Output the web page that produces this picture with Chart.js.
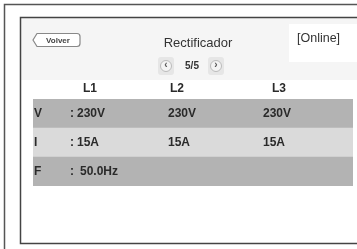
<!DOCTYPE html>
<html>
<head>
<meta charset="utf-8">
<script src="https://cdn.jsdelivr.net/npm/chart.js@4.4.1/dist/chart.umd.min.js"></script>
<style>
  html, body { margin: 0; padding: 0; background: #fff; }
  canvas { display: block; }
</style>
</head>
<body>
<canvas id="panel" width="357" height="249"></canvas>
<script>
// datos de la pantalla
const titulo = 'Rectificador';
const estado = '[Online]';
const pagina = '5/5';
const fases = ['L1', 'L2', 'L3'];
const filas = ['V', 'I', 'F'];
const tension = [230, 230, 230];
const corriente = [15, 15, 15];
const frecuencia = [50.0];

const textos = [
    tension.map(v => v + 'V'),
    corriente.map(v => v + 'A'),
    frecuencia.map(v => v.toFixed(1) + 'Hz')
];

const FONT = '"Liberation Sans", Arial, sans-serif';
const colX = [77, 168, 263];      // inicio de cada columna de valores
const headX = [90, 177, 279];     // centro de L1..L3

function roundRect(ctx, x, y, w, h, r) {
    ctx.beginPath();
    ctx.moveTo(x + r, y);
    ctx.lineTo(x + w - r, y);
    ctx.quadraticCurveTo(x + w, y, x + w, y + r);
    ctx.lineTo(x + w, y + h - r);
    ctx.quadraticCurveTo(x + w, y + h, x + w - r, y + h);
    ctx.lineTo(x + r, y + h);
    ctx.quadraticCurveTo(x, y + h, x, y + h - r);
    ctx.lineTo(x, y + r);
    ctx.quadraticCurveTo(x, y, x + r, y);
    ctx.closePath();
}

const marco = {
    id: 'marco',
    beforeDraw(chart) {
        const ctx = chart.ctx;
        ctx.save();
        ctx.fillStyle = '#ffffff';
        ctx.fillRect(0, 0, chart.width, chart.height);

        // cabecera gris clara
        ctx.fillStyle = '#f5f5f5';
        ctx.fillRect(21, 18, 336, 62);
        ctx.fillStyle = '#ffffff';
        ctx.fillRect(289, 24, 68, 38);

        // marco exterior
        ctx.strokeStyle = '#555';
        ctx.lineWidth = 1.5;
        ctx.beginPath();
        ctx.moveTo(4.5, 249);
        ctx.lineTo(4.5, 4.5);
        ctx.lineTo(357, 4.5);
        ctx.stroke();

        // marco interior
        ctx.strokeStyle = '#444';
        ctx.beginPath();
        ctx.moveTo(357, 17.5);
        ctx.lineTo(20.5, 17.5);
        ctx.lineTo(20.5, 243.5);
        ctx.lineTo(357, 243.5);
        ctx.stroke();

        // boton Volver (con punta a la izquierda)
        ctx.lineWidth = 1.2;
        ctx.strokeStyle = '#888';
        ctx.fillStyle = '#fff';
        ctx.beginPath();
        ctx.moveTo(37, 33.5);
        ctx.lineTo(77, 33.5);
        ctx.quadraticCurveTo(80, 33.5, 80, 36.5);
        ctx.lineTo(80, 43.5);
        ctx.quadraticCurveTo(80, 46.5, 77, 46.5);
        ctx.lineTo(37, 46.5);
        ctx.lineTo(33, 40);
        ctx.closePath();
        ctx.fill();
        ctx.stroke();
        ctx.fillStyle = '#444';
        ctx.font = 'bold 8px ' + FONT;
        ctx.textAlign = 'center';
        ctx.textBaseline = 'middle';
        ctx.fillText('Volver', 58, 40.5);

        // titulo y estado
        ctx.fillStyle = '#333';
        ctx.font = '13px ' + FONT;
        ctx.fillText(titulo, 198, 43);
        ctx.font = '12.5px ' + FONT;
        ctx.textAlign = 'left';
        ctx.fillText(estado, 297, 39);

        // paginacion
        [166, 216].forEach((x, i) => {
            ctx.fillStyle = '#e6e6e6';
            roundRect(ctx, x - 8, 57, 16, 18, 3);
            ctx.fill();
            ctx.strokeStyle = '#bbb';
            ctx.lineWidth = 1;
            ctx.fillStyle = '#f4f4f4';
            ctx.beginPath();
            ctx.arc(x, 66, 5.5, 0, Math.PI * 2);
            ctx.fill();
            ctx.stroke();
            ctx.fillStyle = '#555';
            ctx.font = 'bold 10px ' + FONT;
            ctx.textAlign = 'center';
            ctx.fillText(i === 0 ? '‹' : '›', x, 65.5);
        });
        ctx.fillStyle = '#333';
        ctx.font = 'bold 10px ' + FONT;
        ctx.fillText(pagina, 192, 66.5);

        // encabezados L1..L3
        ctx.fillStyle = '#2a2a2a';
        ctx.font = 'bold 12px ' + FONT;
        fases.forEach((f, i) => ctx.fillText(f, headX[i], 89));
        ctx.restore();
    },
    afterDatasetsDraw(chart) {
        const ctx = chart.ctx;
        const y = chart.scales.y;
        ctx.save();
        ctx.fillStyle = '#2a2a2a';
        ctx.font = 'bold 12px ' + FONT;
        ctx.textBaseline = 'middle';
        ctx.textAlign = 'left';
        filas.forEach((fila, r) => {
            const py = y.getPixelForValue(r);
            ctx.fillText(fila, 34, py);
            ctx.fillText(':', 70, py);
            textos[r].forEach((t, c) => ctx.fillText(t, colX[c] + (r === 2 ? 3 : 0), py));
        });
        ctx.restore();
    }
};

new Chart(document.getElementById('panel'), {
    type: 'bar',
    data: {
        labels: filas,
        datasets: [{
            data: filas.map(() => 1),
            backgroundColor: ['#b3b3b3', '#dadada', '#b3b3b3'],
            borderWidth: 0,
            barPercentage: 1,
            categoryPercentage: 1
        }]
    },
    options: {
        indexAxis: 'y',
        responsive: false,
        animation: false,
        layout: { padding: { left: 33, right: 4, top: 99, bottom: 63 } },
        scales: {
            x: { display: false, min: 0, max: 1 },
            y: { display: false }
        },
        plugins: {
            legend: { display: false },
            tooltip: { enabled: false }
        }
    },
    plugins: [marco]
});
</script>
</body>
</html>
